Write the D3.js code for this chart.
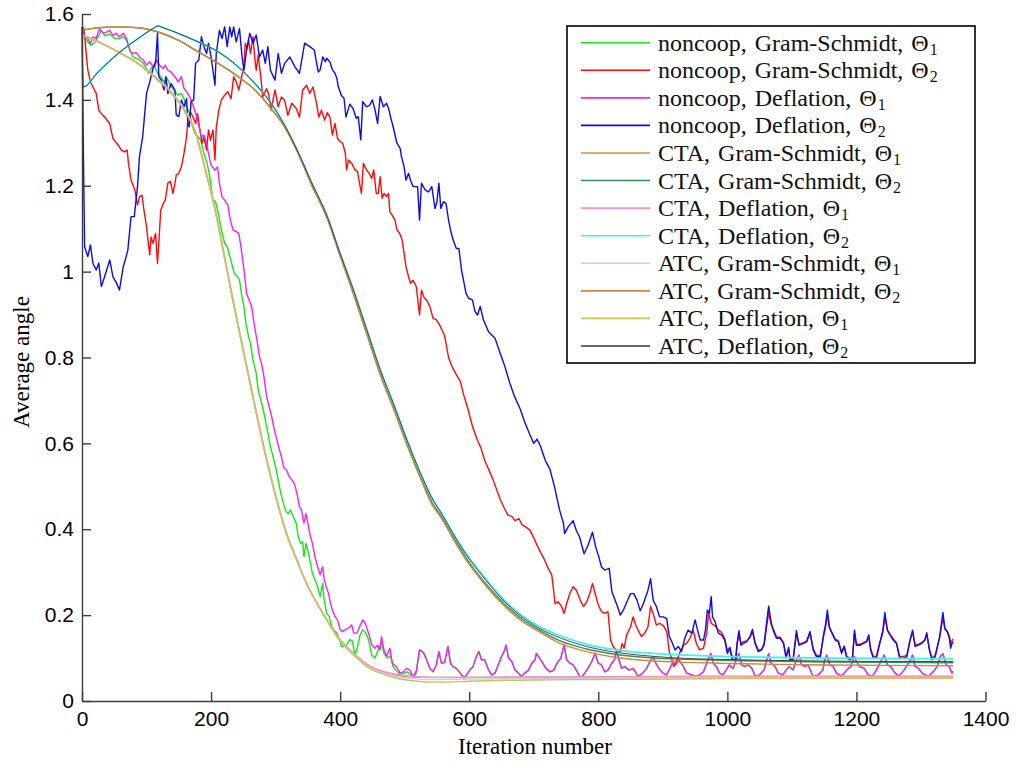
<!DOCTYPE html>
<html>
<head>
<meta charset="utf-8">
<script src="https://cdn.jsdelivr.net/npm/d3@7"></script>
<style>
  body { margin: 0; background: #ffffff; }
  svg { display: block; }
</style>
</head>
<body>
<svg id="chart" width="1016" height="765"></svg>
<script>
// ---------- data: [iteration, average angle] ----------

// noncoop, Gram-Schmidt, Theta1 (start of run; the converged tail is shared below)
const nonGsT1Head = [[0,1.566],[4,1.547],[9,1.535],[14,1.527],[20,1.535],[25,1.547],[30,1.562],[35,1.55],[43,1.553],[51,1.543],[58,1.543],[64,1.547],[69,1.539],[74,1.516],[79,1.5],[84,1.497],[89,1.493],[95,1.485],[100,1.473],[103,1.462],[107,1.473],[112,1.481],[117,1.462],[122,1.454],[127,1.442],[132,1.45],[137,1.434],[144,1.419],[149,1.411],[154,1.415],[158,1.403],[162,1.384],[167,1.368],[170,1.345],[175,1.322],[180,1.314],[184,1.306],[189,1.275],[194,1.252],[198,1.221],[203,1.167],[207,1.163],[211,1.136],[216,1.097],[221,1.066],[225,1.058],[229,1.035],[232,1.019],[236,0.996],[240,0.99],[244,0.981],[247,0.949],[251,0.918],[254,0.88],[258,0.849],[261,0.833],[265,0.794],[270,0.763],[273,0.724],[277,0.701],[281,0.678],[285,0.647],[289,0.616],[292,0.592],[296,0.569],[301,0.538],[304,0.515],[308,0.484],[312,0.461],[316,0.441],[320,0.437],[323,0.445],[327,0.43],[332,0.414],[335,0.383],[339,0.367],[342,0.371],[344,0.336],[347,0.367],[351,0.344],[354,0.321],[357,0.297],[361,0.282],[365,0.267],[369,0.243],[373,0.274],[375,0.239],[379,0.204],[383,0.197],[387,0.173],[390,0.166],[395,0.158],[399,0.143],[402,0.127],[406,0.127],[410,0.131],[415,0.143],[419,0.14],[423,0.104],[427,0.127],[431,0.154],[435,0.166],[439,0.16],[444,0.143],[449,0.107],[454,0.1],[459,0.119],[464,0.135],[468,0.111],[473,0.1],[478,0.105],[482,0.08],[488,0.069],[493,0.061],[499,0.065],[504,0.068],[509,0.062],[514,0.057],[518,0.065]];

// noncoop, Deflation, Theta1 (start of run)
const nonDfT1Head = [[0,1.566],[4,1.55],[9,1.543],[13,1.531],[17,1.547],[22,1.543],[27,1.566],[33,1.555],[38,1.558],[43,1.562],[48,1.55],[53,1.555],[58,1.547],[64,1.555],[69,1.543],[72,1.527],[75,1.512],[79,1.508],[84,1.51],[89,1.5],[95,1.493],[100,1.481],[105,1.489],[110,1.477],[115,1.493],[120,1.481],[126,1.473],[129,1.481],[133,1.469],[138,1.465],[144,1.454],[149,1.442],[154,1.454],[158,1.427],[162,1.419],[167,1.407],[172,1.388],[177,1.364],[181,1.341],[185,1.314],[189,1.318],[193,1.299],[196,1.275],[200,1.248],[206,1.236],[210,1.244],[213,1.205],[217,1.174],[221,1.167],[226,1.155],[230,1.12],[234,1.097],[239,1.093],[243,1.089],[247,1.05],[251,1.004],[255,0.949],[259,0.934],[263,0.918],[266.5,0.88],[271,0.841],[275,0.802],[278,0.787],[282,0.755],[286,0.709],[290,0.686],[294,0.662],[298,0.631],[302,0.608],[306,0.585],[309,0.569],[313,0.542],[317,0.538],[321,0.523],[325,0.515],[329,0.507],[333,0.484],[337,0.453],[340,0.445],[344,0.414],[347,0.437],[351,0.406],[354,0.383],[357,0.367],[361,0.336],[365,0.313],[369,0.294],[373,0.313],[375,0.286],[378,0.267],[382,0.251],[385,0.228],[388,0.212],[392,0.197],[396,0.189],[400,0.166],[404,0.162],[408,0.166],[413,0.17],[418,0.177],[421,0.158],[426,0.158],[430,0.173],[435,0.189],[439,0.181],[444,0.158],[449,0.131],[454,0.123],[458,0.13],[462,0.119],[464,0.15],[468,0.119],[472,0.104],[477,0.123],[481,0.088],[487,0.08],[493,0.065],[498,0.068],[503,0.076],[508,0.072],[513,0.057],[518,0.07]];

// both noncoop Theta1 runs coincide once converged
const nonT1Tail = [[523,0.119],[529,0.113],[534,0.096],[539,0.076],[544,0.068],[549,0.084],[553,0.115],[557,0.088],[562,0.09],[567,0.127],[571,0.088],[575,0.08],[580,0.076],[586,0.065],[592,0.053],[596,0.061],[601,0.072],[606,0.08],[611,0.103],[615,0.115],[619,0.096],[624,0.096],[630,0.072],[635,0.061],[640,0.065],[645,0.084],[650,0.103],[654,0.115],[657,0.13],[661,0.1],[666,0.092],[671,0.072],[676,0.065],[681,0.057],[686,0.065],[692,0.072],[697,0.088],[702,0.096],[704,0.111],[709,0.1],[714,0.088],[719,0.076],[725,0.068],[731,0.072],[736,0.088],[742,0.1],[747,0.13],[751,0.096],[756,0.088],[761,0.084],[766,0.072],[773,0.053],[779,0.065],[784,0.076],[790,0.092],[795,0.111],[800,0.088],[805,0.084],[810,0.068],[815,0.072],[821,0.088],[825,0.096],[828,0.115],[833,0.092],[836,0.076],[841,0.08],[848,0.072],[854,0.076],[862,0.057],[869,0.065],[875,0.076],[880,0.092],[885,0.103],[889,0.088],[894,0.076],[900,0.065],[906,0.061],[911,0.076],[916,0.092],[920,0.084],[925,0.096],[932,0.08],[937,0.065],[945,0.061],[952,0.057],[957,0.061],[963,0.068],[968,0.088],[972,0.103],[974.5,0.111],[978,0.088],[983,0.08],[988,0.065],[993,0.061],[998,0.072],[1003,0.084],[1009,0.076],[1014,0.096],[1018,0.111],[1022,0.084],[1027,0.08],[1032,0.084],[1038,0.076],[1043,0.058],[1050,0.061],[1057,0.072],[1061,0.096],[1064,0.11],[1068,0.088],[1074,0.08],[1079,0.065],[1086,0.061],[1091,0.072],[1096,0.08],[1102,0.072],[1107,0.096],[1111,0.107],[1115,0.084],[1120,0.08],[1125,0.084],[1133,0.057],[1141,0.061],[1148,0.072],[1151,0.096],[1154,0.107],[1159,0.084],[1164,0.08],[1169,0.065],[1177,0.058],[1185,0.072],[1191,0.08],[1197,0.103],[1200,0.092],[1205,0.08],[1212,0.076],[1218,0.061],[1225,0.058],[1231,0.072],[1239,0.096],[1243,0.107],[1248,0.084],[1253,0.08],[1260,0.065],[1266,0.058],[1274,0.072],[1279,0.084],[1284,0.096],[1287,0.107],[1291,0.08],[1296,0.076],[1302,0.065],[1311,0.057],[1319,0.068],[1325,0.08],[1330,0.103],[1334,0.11],[1339,0.084],[1344,0.08],[1348,0.065],[1350,0.069]];

// noncoop, Gram-Schmidt, Theta2
const nonGsT2 = [[0,1.57],[3,1.566],[7,1.5],[9,1.47],[13,1.442],[17,1.43],[22,1.415],[26,1.376],[30,1.368],[35,1.36],[43,1.345],[45,1.33],[48,1.31],[52,1.302],[56,1.295],[61,1.283],[66,1.279],[70,1.283],[72,1.252],[76,1.213],[82,1.19],[86,1.155],[89,1.174],[93,1.178],[96,1.143],[100,1.105],[102,1.077],[105,1.039],[107,1.081],[110,1.066],[114,1.089],[117,1.019],[119,1.066],[122,1.143],[126,1.159],[129,1.167],[133,1.206],[137,1.21],[141,1.182],[144,1.206],[146,1.225],[150,1.229],[154,1.244],[158,1.275],[162,1.314],[164,1.353],[168,1.372],[172,1.36],[176,1.345],[179,1.368],[182,1.337],[186,1.299],[189,1.314],[193,1.283],[196,1.33],[199,1.306],[203,1.33],[206,1.26],[208,1.334],[212,1.376],[216,1.4],[221,1.411],[226,1.419],[231,1.403],[235,1.454],[239,1.442],[243,1.423],[247,1.45],[251,1.481],[253,1.532],[256,1.52],[258,1.54],[261,1.508],[265,1.547],[268,1.493],[270,1.469],[273,1.504],[277,1.454],[280,1.407],[286,1.426],[289,1.415],[293,1.376],[299,1.423],[304,1.384],[309,1.407],[314,1.399],[319,1.364],[325,1.392],[332,1.38],[337,1.36],[342,1.423],[348,1.434],[353,1.415],[358,1.43],[363,1.395],[367,1.36],[371,1.376],[376,1.353],[380,1.37],[384,1.361],[388,1.318],[392,1.345],[396,1.31],[400,1.303],[404,1.299],[408,1.276],[410,1.237],[413,1.26],[418,1.252],[423,1.237],[427,1.233],[430,1.206],[433,1.182],[436,1.252],[441,1.237],[445,1.229],[449,1.217],[452,1.237],[456,1.182],[459,1.182],[462,1.221],[465,1.171],[468,1.182],[472,1.175],[475,1.182],[477,1.14],[482,1.128],[485,1.12],[488,1.097],[492,1.09],[496,1.074],[499,1.043],[502,1.012],[506,0.988],[509,0.973],[513,0.98],[518,0.965],[523,0.899],[526,0.957],[530,0.94],[534,0.934],[539,0.919],[544,0.891],[549,0.888],[556,0.87],[562,0.85],[568,0.8],[573,0.78],[580,0.76],[586,0.745],[592,0.71],[598,0.68],[605,0.64],[612,0.61],[618,0.59],[624,0.56],[630,0.54],[637,0.515],[643,0.49],[648,0.47],[654,0.45],[660,0.433],[666,0.43],[671,0.42],[677,0.425],[682,0.41],[688,0.405],[694,0.398],[700,0.38],[705,0.363],[711,0.345],[717,0.328],[722,0.31],[728,0.293],[733,0.227],[738,0.231],[743,0.22],[747,0.204],[751,0.227],[756,0.251],[761,0.266],[766,0.258],[772,0.235],[777,0.22],[782,0.231],[787,0.251],[791,0.274],[795,0.251],[800,0.224],[805,0.208],[810,0.204],[815,0.208],[819,0.142],[823,0.127],[828,0.119],[834,0.115],[837,0.134],[840,0.123],[844,0.154],[850,0.173],[854,0.196],[858,0.177],[864,0.158],[867,0.15],[872,0.158],[877,0.173],[881,0.22],[885,0.204],[890,0.177],[895,0.181],[901,0.175],[906,0.162],[910,0.115],[914,0.096],[917,0.08],[921,0.092],[927,0.115],[932,0.13],[937,0.134],[942,0.146],[947,0.165],[952,0.134],[957,0.119],[963,0.123],[968,0.158],[971,0.204],[975,0.181],[981,0.175],[986,0.165],[991,0.16],[996,0.145],[1000,0.118],[1004,0.125],[1007,0.105],[1013,0.1],[1015,0.13],[1018,0.155],[1021,0.135],[1025,0.138],[1030,0.14],[1035,0.148],[1039,0.16],[1043,0.136],[1048,0.118],[1053,0.12],[1057,0.13],[1061,0.175],[1064,0.205],[1068,0.178],[1071,0.168],[1076,0.15],[1082,0.148],[1087,0.136],[1091,0.105],[1095,0.122],[1097,0.1],[1102,0.1],[1107,0.155],[1111,0.132],[1118,0.136],[1123,0.14],[1128,0.158],[1133,0.122],[1138,0.106],[1144,0.106],[1149,0.15],[1152,0.17],[1155,0.2],[1158,0.172],[1162,0.16],[1167,0.145],[1172,0.14],[1177,0.114],[1181,0.128],[1185,0.104],[1190,0.1],[1194,0.103],[1197,0.158],[1200,0.132],[1206,0.132],[1211,0.136],[1216,0.14],[1219,0.152],[1222,0.122],[1226,0.104],[1231,0.104],[1236,0.134],[1241,0.16],[1244,0.195],[1248,0.165],[1252,0.156],[1257,0.145],[1262,0.136],[1267,0.104],[1273,0.104],[1278,0.106],[1283,0.14],[1287,0.16],[1291,0.13],[1296,0.132],[1301,0.136],[1306,0.142],[1309,0.155],[1313,0.122],[1317,0.1],[1322,0.106],[1325,0.124],[1329,0.148],[1334,0.195],[1337,0.168],[1341,0.16],[1344,0.15],[1346,0.135],[1348,0.14],[1350,0.145]];

// noncoop, Deflation, Theta2
const nonDfT2 = [[0,1.57],[2,1.3],[4,1.058],[9,1.035],[13,1.062],[17,1.019],[22,1.004],[26,1.02],[30,0.965],[35,0.988],[43,1.027],[48,0.988],[53,0.975],[58,0.957],[64,1.012],[67,1.027],[71,1.05],[76,1.128],[81,1.128],[86,1.198],[89,1.267],[94,1.314],[100,1.415],[105,1.442],[110,1.473],[114,1.485],[117,1.555],[119,1.454],[123,1.446],[127,1.423],[130,1.454],[133,1.415],[138,1.438],[144,1.423],[146,1.365],[150,1.361],[154,1.4],[158,1.384],[162,1.403],[164,1.345],[166,1.337],[169,1.396],[173,1.4],[176,1.485],[181,1.493],[185,1.547],[189,1.524],[193,1.508],[196,1.532],[200,1.5],[206,1.434],[208,1.508],[213,1.562],[217,1.543],[221,1.57],[225,1.524],[229,1.57],[232,1.547],[235,1.57],[239,1.535],[244,1.566],[248,1.5],[251,1.469],[255,1.516],[260,1.555],[265,1.532],[270,1.551],[275,1.5],[280,1.516],[284,1.485],[288,1.524],[292,1.469],[299,1.446],[304,1.508],[309,1.462],[314,1.485],[322,1.5],[330,1.477],[337,1.462],[345,1.532],[353,1.524],[360,1.516],[366,1.465],[369,1.47],[373,1.5],[377,1.489],[379,1.497],[384,1.489],[388,1.47],[392,1.462],[395,1.45],[397,1.431],[402,1.41],[406,1.404],[409,1.36],[415,1.39],[420,1.38],[425,1.357],[428,1.361],[432,1.307],[435,1.396],[441,1.384],[446,1.388],[450,1.4],[454,1.377],[458,1.345],[462,1.408],[467,1.384],[472,1.392],[475,1.38],[478,1.361],[482,1.338],[488,1.299],[493,1.287],[495,1.268],[499,1.245],[502,1.213],[506,1.229],[509,1.213],[513,1.198],[520,1.198],[523,1.12],[526,1.206],[532,1.19],[537,1.186],[542,1.198],[547,1.147],[550,1.163],[553,1.206],[556,1.147],[560,1.163],[564,1.159],[568,1.12],[571,1.097],[575,1.074],[580,1.054],[584,1.054],[588,1.004],[592,0.973],[595,0.95],[599,0.938],[605,0.934],[609,0.907],[613,0.899],[617,0.919],[622,0.888],[630,0.86],[640,0.845],[648,0.81],[655,0.78],[663,0.74],[670,0.71],[679,0.68],[686,0.65],[694,0.62],[700,0.6],[705,0.61],[710,0.595],[718,0.56],[725,0.54],[732,0.5],[740,0.445],[746,0.414],[748,0.39],[753,0.405],[761,0.42],[766,0.397],[771,0.382],[778,0.343],[784,0.362],[791,0.393],[796,0.359],[801,0.335],[805,0.312],[810,0.305],[817,0.309],[821,0.255],[826,0.235],[831,0.215],[834,0.2],[839,0.212],[844,0.23],[850,0.25],[855,0.25],[860,0.235],[865,0.21],[870,0.227],[877,0.258],[881,0.285],[885,0.235],[890,0.22],[895,0.196],[901,0.196],[906,0.192],[910,0.15],[914,0.138],[919,0.119],[924,0.127],[929,0.115],[934,0.146],[939,0.165],[945,0.158],[950,0.189],[955,0.158],[958,0.142],[963,0.142],[966,0.165],[969,0.212],[972,0.204],[975,0.243],[977,0.196],[981,0.185],[986,0.158],[991,0.154],[996,0.142],[1000,0.111],[1004,0.123],[1007,0.1],[1009,0.096],[1013,0.096],[1015,0.134],[1018,0.164],[1021,0.13],[1025,0.134],[1030,0.138],[1035,0.15],[1039,0.167],[1043,0.134],[1048,0.115],[1053,0.119],[1057,0.134],[1061,0.185],[1064,0.221],[1068,0.181],[1071,0.165],[1076,0.146],[1082,0.146],[1087,0.134],[1091,0.1],[1095,0.125],[1097,0.096],[1102,0.096],[1107,0.164],[1111,0.13],[1118,0.134],[1123,0.138],[1128,0.162],[1133,0.119],[1138,0.103],[1144,0.103],[1149,0.154],[1152,0.177],[1155,0.212],[1158,0.173],[1162,0.158],[1167,0.142],[1172,0.138],[1177,0.111],[1181,0.127],[1185,0.1],[1190,0.096],[1194,0.1],[1197,0.165],[1200,0.13],[1206,0.13],[1211,0.134],[1216,0.138],[1219,0.154],[1222,0.119],[1226,0.1],[1231,0.1],[1236,0.134],[1241,0.165],[1244,0.206],[1248,0.165],[1252,0.154],[1257,0.142],[1262,0.134],[1267,0.1],[1273,0.1],[1278,0.103],[1283,0.142],[1287,0.165],[1291,0.127],[1296,0.13],[1301,0.134],[1306,0.142],[1309,0.159],[1313,0.119],[1317,0.096],[1322,0.103],[1325,0.123],[1329,0.15],[1334,0.206],[1337,0.169],[1341,0.162],[1344,0.146],[1346,0.123],[1348,0.134],[1350,0.138]];

// CTA, Gram-Schmidt, Theta1
const ctaGsT1 = [[0,1.552],[25,1.536],[56,1.512],[87,1.484],[113,1.452],[138,1.416],[159,1.374],[175,1.327],[190,1.242],[205,1.151],[219,1.046],[234,0.93],[250,0.814],[263,0.72],[276,0.627],[289,0.542],[302,0.465],[317,0.388],[333,0.327],[348,0.273],[364,0.228],[379,0.19],[395,0.152],[410,0.126],[426,0.104],[441,0.086],[462,0.07],[488,0.06],[513,0.056],[540,0.055],[600,0.055],[800,0.056],[1000,0.057],[1350,0.057]];
// CTA, Gram-Schmidt, Theta2
const ctaGsT2 = [[0,1.562],[25,1.568],[56,1.57],[87,1.568],[118,1.558],[149,1.539],[180,1.512],[211,1.485],[242,1.454],[268,1.423],[293,1.38],[314,1.337],[335,1.275],[355,1.205],[381,1.12],[397,1.05],[420,0.952],[441,0.857],[462,0.763],[482,0.686],[503,0.601],[524,0.523],[544,0.458],[555,0.434],[580,0.37],[600,0.323],[620,0.283],[648,0.236],[679,0.194],[710,0.164],[741,0.14],[782,0.121],[834,0.107],[885,0.1],[937,0.097],[989,0.095],[1050,0.093],[1150,0.091],[1250,0.09],[1350,0.089]];
// CTA, Deflation, Theta1
const ctaDfT1 = [[0,1.551],[25,1.535],[56,1.512],[87,1.485],[113,1.454],[138,1.419],[159,1.377],[175,1.33],[190,1.245],[205,1.155],[219,1.05],[234,0.934],[250,0.818],[263,0.724],[276,0.631],[289,0.546],[302,0.468],[317,0.391],[333,0.329],[348,0.274],[364,0.228],[379,0.19],[395,0.153],[410,0.127],[426,0.104],[441,0.086],[462,0.071],[488,0.062],[513,0.057],[540,0.055],[600,0.055],[800,0.056],[1000,0.058],[1350,0.058]];
// CTA, Deflation, Theta2
const ctaDfT2 = [[0,1.565],[2,1.43],[25,1.465],[56,1.508],[87,1.543],[110,1.566],[118,1.572],[126,1.568],[149,1.555],[180,1.535],[211,1.512],[242,1.477],[268,1.438],[293,1.392],[314,1.341],[335,1.278],[355,1.21],[381,1.125],[397,1.055],[420,0.96],[441,0.866],[462,0.772],[482,0.695],[503,0.61],[524,0.532],[544,0.468],[555,0.442],[580,0.378],[600,0.333],[620,0.295],[648,0.245],[679,0.202],[710,0.172],[741,0.152],[782,0.132],[834,0.118],[885,0.111],[937,0.107],[989,0.104],[1050,0.102],[1150,0.1],[1250,0.099],[1350,0.098]];
// ATC, Gram-Schmidt, Theta1
const atcGsT1 = [[0,1.551],[25,1.535],[56,1.512],[87,1.485],[113,1.454],[138,1.419],[159,1.377],[175,1.33],[190,1.245],[205,1.155],[219,1.05],[234,0.934],[250,0.818],[263,0.724],[276,0.631],[289,0.546],[302,0.468],[317,0.391],[333,0.329],[348,0.274],[364,0.228],[379,0.189],[395,0.15],[410,0.124],[426,0.101],[441,0.082],[462,0.067],[488,0.057],[513,0.052],[540,0.05],[600,0.051],[800,0.053],[1000,0.055],[1350,0.055]];
// ATC, Gram-Schmidt, Theta2
const atcGsT2 = [[0,1.562],[25,1.568],[56,1.57],[87,1.568],[118,1.558],[149,1.539],[180,1.512],[211,1.485],[242,1.454],[268,1.423],[293,1.38],[314,1.337],[335,1.275],[355,1.205],[381,1.12],[397,1.05],[420,0.95],[441,0.855],[462,0.76],[482,0.683],[503,0.598],[524,0.52],[544,0.453],[555,0.43],[580,0.365],[600,0.318],[620,0.279],[648,0.231],[679,0.189],[710,0.16],[741,0.134],[782,0.115],[834,0.1],[885,0.093],[937,0.09],[989,0.088],[1050,0.086],[1150,0.084],[1250,0.083],[1350,0.082]];
// ATC, Deflation, Theta1
const atcDfT1 = [[0,1.551],[25,1.535],[56,1.512],[87,1.485],[113,1.454],[138,1.419],[159,1.377],[175,1.33],[190,1.245],[205,1.155],[219,1.05],[234,0.934],[250,0.818],[263,0.724],[276,0.631],[289,0.546],[302,0.468],[317,0.391],[333,0.329],[348,0.274],[364,0.228],[379,0.189],[395,0.15],[410,0.123],[426,0.1],[441,0.08],[462,0.065],[488,0.053],[513,0.047],[540,0.044],[560,0.044],[600,0.046],[700,0.049],[800,0.05],[1000,0.052],[1200,0.053],[1350,0.053]];
// ATC, Deflation, Theta2
const atcDfT2 = [[0,1.565],[2,1.43],[25,1.465],[56,1.508],[87,1.543],[110,1.566],[118,1.572],[126,1.568],[149,1.555],[180,1.535],[211,1.512],[242,1.477],[268,1.438],[293,1.392],[314,1.341],[335,1.278],[355,1.21],[381,1.125],[397,1.055],[420,0.96],[441,0.866],[462,0.772],[482,0.695],[503,0.61],[524,0.532],[544,0.468],[555,0.442],[580,0.377],[600,0.331],[620,0.292],[648,0.242],[679,0.199],[710,0.168],[741,0.147],[782,0.127],[834,0.112],[885,0.104],[937,0.099],[989,0.097],[1050,0.095],[1150,0.093],[1250,0.092],[1350,0.092]];

// axis ticks
const xTicks = [0, 200, 400, 600, 800, 1000, 1200, 1400];
const yTicks = [0, 0.2, 0.4, 0.6, 0.8, 1, 1.2, 1.4, 1.6];
const yTickLabels = ["0", "0.2", "0.4", "0.6", "0.8", "1", "1.2", "1.4", "1.6"];

// legend text: [scheme, method, subscript of Theta]
const legendText = [
  ["noncoop", "Gram-Schmidt", "1"], ["noncoop", "Gram-Schmidt", "2"],
  ["noncoop", "Deflation", "1"], ["noncoop", "Deflation", "2"],
  ["CTA", "Gram-Schmidt", "1"], ["CTA", "Gram-Schmidt", "2"],
  ["CTA", "Deflation", "1"], ["CTA", "Deflation", "2"],
  ["ATC", "Gram-Schmidt", "1"], ["ATC", "Gram-Schmidt", "2"],
  ["ATC", "Deflation", "1"], ["ATC", "Deflation", "2"]
];

// ---------- drawing ----------
const svg = d3.select("#chart");
const x = d3.scaleLinear().domain([0, 1400]).range([82, 985.5]);
const y = d3.scaleLinear().domain([0, 1.6]).range([701, 14]);

const series = [
  { data: nonGsT1Head.concat(nonT1Tail), color: "#13e813", smooth: false, w: 1.4 },
  { data: nonGsT2, color: "#ff0a0a", smooth: false, w: 1.4 },
  { data: nonDfT1Head.concat(nonT1Tail), color: "#f522f5", smooth: false, w: 1.4 },
  { data: nonDfT2, color: "#0b0bf2", smooth: false, w: 1.4 },
  { data: ctaGsT1, color: "#db8c3a", smooth: true, w: 1.4 },
  { data: ctaGsT2, color: "#3b8b5e", smooth: true, w: 1.4 },
  { data: ctaDfT1, color: "#ff8fc6", smooth: true, w: 1.4 },
  { data: ctaDfT2, color: "#3ff2f2", smooth: true, w: 1.8 },
  { data: atcGsT1, color: "#c2ccff", smooth: true, w: 1.4 },
  { data: atcGsT2, color: "#d2873a", smooth: true, w: 1.4 },
  { data: atcDfT1, color: "#c9c452", smooth: true, w: 1.4 },
  { data: atcDfT2, color: "#333838", smooth: true, w: 0.9 }
];

const lineRaw = d3.line().x(d => x(d[0])).y(d => y(d[1])).curve(d3.curveLinear);
const lineSmooth = d3.line().x(d => x(d[0])).y(d => y(d[1])).curve(d3.curveMonotoneX);

const plot = svg.append("g");
series.forEach(s => {
  plot.append("path")
    .attr("d", (s.smooth ? lineSmooth : lineRaw)(s.data))
    .attr("fill", "none")
    .attr("stroke", s.color)
    .attr("stroke-width", s.w)
    .attr("stroke-linejoin", "round");
});

// axes (ticks point inward, no box)
const axisColor = "#3c3c3c";
const gx = svg.append("g").attr("transform", "translate(0,701)")
  .call(d3.axisBottom(x).tickValues(xTicks).tickFormat(d3.format("d"))
    .tickSizeInner(-9).tickSizeOuter(0).tickPadding(10));
const gy = svg.append("g").attr("transform", "translate(82,0)")
  .call(d3.axisLeft(y).tickValues(yTicks).tickFormat((d, i) => yTickLabels[i])
    .tickSizeInner(-9).tickSizeOuter(0).tickPadding(8));
[gx, gy].forEach(g => {
  g.select(".domain").attr("stroke", axisColor).attr("stroke-width", 1.4);
  g.selectAll(".tick line").attr("stroke", axisColor).attr("stroke-width", 1.4);
  g.selectAll(".tick text")
    .attr("fill", "#000")
    .style("font-family", "'Liberation Sans', Arial, Helvetica, sans-serif")
    .style("font-size", "21px");
});

// axis titles
svg.append("text")
  .attr("x", 535).attr("y", 754)
  .attr("text-anchor", "middle")
  .style("font-family", "'Liberation Serif', 'Times New Roman', serif")
  .style("font-size", "23px")
  .text("Iteration number");
svg.append("text")
  .attr("transform", "translate(29,362) rotate(-90)")
  .attr("text-anchor", "middle")
  .style("font-family", "'Liberation Serif', 'Times New Roman', serif")
  .style("font-size", "23px")
  .text("Average angle");

// legend
const lg = svg.append("g");
lg.append("rect")
  .attr("x", 567).attr("y", 26).attr("width", 408).attr("height", 337)
  .attr("fill", "#fff").attr("stroke", "#000").attr("stroke-width", 1.6);
const rowY = i => 42.7 + i * 27.57;
legendText.forEach((t, i) => {
  lg.append("line")
    .attr("x1", 581).attr("x2", 650)
    .attr("y1", rowY(i)).attr("y2", rowY(i))
    .attr("stroke", series[i].color).attr("stroke-width", 1.6);
  const tx = lg.append("text")
    .attr("x", 658).attr("y", rowY(i) + 8)
    .style("font-family", "'Liberation Serif', 'Times New Roman', serif")
    .style("font-size", "24px")
    .attr("fill", "#111");
  tx.append("tspan").text(t[0] + ",");
  tx.append("tspan").attr("dx", 8).text(t[1] + ",");
  tx.append("tspan").attr("dx", 8).text("\u0398");
  tx.append("tspan").attr("dx", 1).attr("dy", 4).style("font-size", "16px").text(t[2]);
});
</script>
</body>
</html>
